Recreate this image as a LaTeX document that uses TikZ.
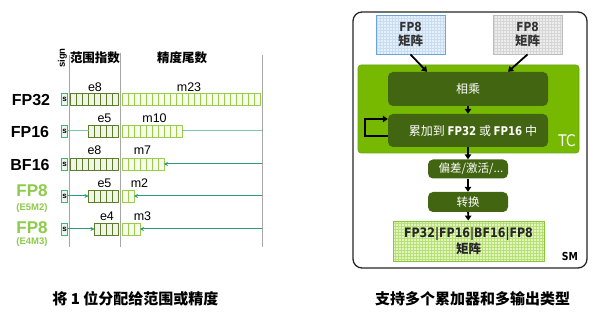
\documentclass[tikz,border=0pt]{standalone}
\usepackage{fontspec}
\setmainfont{Liberation Sans}
\newfontfamily\cjk{Noto Sans CJK SC}
\newfontfamily\tah[FakeStretch=0.85]{DejaVu Sans}
\usetikzlibrary{arrows.meta}
\definecolor{expb}{HTML}{5E7D2B}
\definecolor{expf}{HTML}{F1F5E8}
\definecolor{manb}{HTML}{9ACD4C}
\definecolor{manf}{HTML}{F7FCEE}
\definecolor{sgnb}{HTML}{3CB878}
\definecolor{sgnf}{HTML}{EAF7EF}
\definecolor{tealc}{HTML}{2E9C7A}
\definecolor{teall}{HTML}{7CC4AA}
\definecolor{fpg}{HTML}{8DCB4A}
\definecolor{tcg}{HTML}{76B900}
\definecolor{tcb}{HTML}{68A319}
\definecolor{dkg}{HTML}{426512}
\definecolor{blueb}{HTML}{6AA6DC}
\definecolor{bluef}{HTML}{E6F0FA}
\definecolor{blueg}{HTML}{C9DDF2}
\definecolor{grayb}{HTML}{BDBDBD}
\definecolor{grayf}{HTML}{EDEDED}
\definecolor{grayg}{HTML}{D6D6D6}
\definecolor{outb}{HTML}{8CC63F}
\definecolor{outf}{HTML}{E2F5BC}
\definecolor{outg}{HTML}{B8E078}
\newcommand\fs[1]{\fontsize{#1}{#1}\selectfont}
\newcommand\bitcells[3]{%
  \foreach \i in {1,...,#2} \draw[ecell] ({118.5-6*\i},{#1-6}) rectangle ++(6,12);
  \foreach \i in {1,...,#3} \draw[mcell] ({122+6*(\i-1)},{#1-6}) rectangle ++(6,12);
}
\tikzset{
  vline/.style={draw=black!35, line width=0.8pt},
  ecell/.style={draw=expb, fill=expf, line width=0.8pt},
  mcell/.style={draw=manb, fill=manf, line width=0.8pt},
  sbox/.style={draw=sgnb, fill=sgnf, line width=0.8pt, minimum width=6pt, minimum height=12pt, inner sep=0pt, font=\fs{8}\bfseries},
  tlinel/.style={draw=teall, line width=1pt},
  tarrow/.style={draw=tealc, line width=1pt, -{Stealth[length=4pt,width=4pt]}},
  fmt/.style={font=\fs{16}\bfseries, inner sep=0pt},
  fmt8/.style={font=\fs{17}\bfseries, text=fpg, inner sep=0pt},
  fmtsub/.style={font=\fs{9.5}\bfseries, text=fpg, inner sep=0pt},
  bl/.style={font=\fs{12.5}, inner sep=0pt},
  hdr/.style={font=\cjk\bfseries\fs{12.5}, inner sep=0pt},
  gridfill/.style={path picture={\draw[#1, line width=0.4pt, step=3pt] (path picture bounding box.south west) grid (path picture bounding box.north east);}},
  mbox/.style={minimum width=69pt, minimum height=39pt, line width=0.9pt, align=center, text=black!80, inner sep=0pt},
  dbox/.style={fill=dkg, draw=none, rounded corners=5pt, text=white, inner sep=0pt, font=\cjk\fs{12}},
  arr/.style={draw=black, line width=1.8pt, -{Triangle[length=5pt,width=6.5pt]}},
  captxt/.style={font=\cjk\bfseries\fs{15}, inner sep=0pt}
}
\begin{document}
\begin{tikzpicture}[x=1pt,y=-1pt]
\useasboundingbox (0,0) rectangle (598,315);
\fill[white] (0,0) rectangle (598,315);

% ---------- left panel ----------
\draw[vline] (69.5,55) -- (69.5,247);
\draw[vline] (120.5,53) -- (120.5,247);
\draw[vline] (262,55) -- (262,247);
\node[hdr] (hexp) at (95,58) {范围指数};
\node[hdr] (hman) at (182,58) {精度尾数};
\node[rotate=90, font=\fs{9.5}\bfseries, inner sep=0pt] (hsgn) at (62.5,58) {sign};

\bitcells{99.5}{8}{23}
\bitcells{131}{5}{10}
\bitcells{164}{8}{7}
\bitcells{196}{5}{2}
\bitcells{229}{4}{3}

\node[sbox] (s1) at (64.5,99.5) {s};
\node[sbox] (s2) at (64.5,131) {s};
\node[sbox] (s3) at (64.5,164) {s};
\node[sbox] (s4) at (64.5,196) {s};
\node[sbox] (s5) at (64.5,229) {s};

\coordinate (e2) at (88.5,131);
\coordinate (m2) at (182,131);
\coordinate (r2) at (262,131);
\coordinate (m3) at (164,164);
\coordinate (r3) at (262,164);
\coordinate (e4) at (88.5,196);
\coordinate (m4) at (134,196);
\coordinate (r4) at (262,196);
\coordinate (e5) at (94.5,229);
\coordinate (m5) at (140,229);
\coordinate (r5) at (262,229);
\draw[tlinel] (s2.east) -- (e2);
\draw[tlinel] (m2) -- (r2);
\draw[tarrow] (r3) -- (m3);
\draw[tarrow] (s4.east) -- (e4);
\draw[tarrow] (r4) -- (m4);
\draw[tarrow] (s5.east) -- (e5);
\draw[tarrow] (r5) -- (m5);

\node[bl] (b1e) at (95,87) {e8};
\node[bl] (b1m) at (189,87) {m23};
\node[bl] (b2e) at (104.5,118) {e5};
\node[bl] (b2m) at (154.5,118) {m10};
\node[bl] (b3e) at (94.5,150.5) {e8};
\node[bl] (b3m) at (142.5,150.5) {m7};
\node[bl] (b4e) at (104.5,183.5) {e5};
\node[bl] (b4m) at (139.5,183.5) {m2};
\node[bl] (b5e) at (107,216.5) {e4};
\node[bl] (b5m) at (142.5,216.5) {m3};

\node[fmt] (l1) at (31,100) {FP32};
\node[fmt] (l2) at (30,131.5) {FP16};
\node[fmt] (l3) at (30,165) {BF16};
\node[fmt8] (l4) at (32,191) {FP8};
\node[fmtsub] (l4s) at (32,208.5) {(E5M2)};
\node[fmt8] (l5) at (32,227.5) {FP8};
\node[fmtsub] (l5s) at (32,242.5) {(E4M3)};

% ---------- right panel ----------
\draw[black!85, line width=1.3pt, rounded corners=9pt] (353,12) rectangle (587,268);
\node[mbox, draw=blueb, fill=bluef, gridfill=blueg] (fa) at (410.5,34.5)
  {{\tah\bfseries\fs{12.5}FP8}\\[1.5pt]{\cjk\bfseries\fs{12.5}矩阵}};
\node[mbox, draw=grayb, fill=grayf, gridfill=grayg] (fb) at (527.5,34.5)
  {{\tah\bfseries\fs{12.5}FP8}\\[1.5pt]{\cjk\bfseries\fs{12.5}矩阵}};

\node[fill=tcg, draw=tcb, line width=0.6pt, rounded corners=3pt, minimum width=221pt, minimum height=88pt, inner sep=0pt] (tc) at (468.5,109) {};
\node[font=\tah\fs{16}, text=white, inner sep=0pt] (tclab) at (567,141) {TC};

\node[dbox, minimum width=160pt, minimum height=34pt] (mul) at (468,89) {相乘};
\node[dbox, minimum width=160pt, minimum height=33pt] (acc) at (468,130.5)
  {\hspace*{10pt}累加到 {\tah\bfseries FP32} 或 {\tah\bfseries FP16} 中};
\node[dbox, minimum width=80pt, minimum height=19pt, font=\cjk\fs{11.5}] (bias) at (468,169) {\hspace*{6pt}偏差/激活/...};
\node[dbox, minimum width=80pt, minimum height=20pt, font=\cjk\fs{11.5}] (conv) at (468,202) {转换};
\node[draw=outb, fill=outf, gridfill=outg, line width=0.9pt, minimum width=151pt, minimum height=40pt, align=center, inner sep=0pt, text=black!85] (out) at (468.5,241)
  {{\tah\bfseries\fs{13}FP32|FP16|BF16|FP8}\\[1pt]{\cjk\bfseries\fs{12.5}矩阵}};
\node[font=\tah\bfseries\fs{11}, inner sep=0pt] (smlab) at (570,256) {SM};

\draw[arr] (fa.south) -- ([xshift=-41pt]mul.north);
\draw[arr] (fb.south) -- ([xshift=40pt]mul.north);
\draw[arr] (mul) -- (acc);
\draw[arr] ([yshift=-5.5pt]acc.west) -- ++(-23,0) |- ([yshift=11.5pt]acc.west);
\draw[arr] (acc) -- (bias);
\draw[arr] (bias) -- (conv);
\draw[arr] (conv) -- (out);

% ---------- captions ----------
\node[captxt] (c1) at (135.5,299) {将 1 位分配给范围或精度};
\node[captxt] (c2) at (472.5,299) {支持多个累加器和多输出类型};
\end{tikzpicture}
\end{document}
